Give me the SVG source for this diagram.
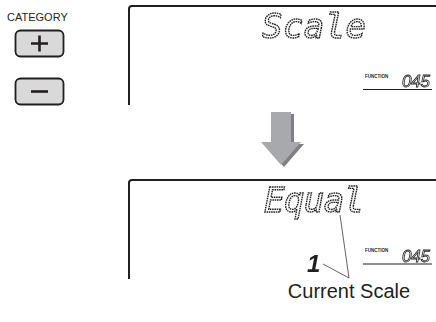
<svg xmlns="http://www.w3.org/2000/svg" width="436" height="322" viewBox="0 0 436 322">
<defs>
<filter id="gray" x="0" y="0" width="1" height="1"><feColorMatrix type="saturate" values="0"/></filter>
<style>
.frame{fill:none;stroke:#231f20;stroke-width:2}
.uline{fill:none;stroke:#231f20;stroke-width:1.1}
.lcd{font-family:"DejaVu Sans Mono",monospace;font-style:italic;font-size:34px;fill:none;stroke:#231f20;stroke-width:1.4;stroke-dasharray:1.6 0.7}
.fn{font-family:"Liberation Sans",Arial,sans-serif;font-weight:bold;font-size:4.5px;fill:#231f20}
.seg{font-family:"Liberation Sans",Arial,sans-serif;font-style:italic;font-size:17px;fill:none;stroke:#231f20;stroke-width:0.8}
.btn{fill:#d9d9d9;stroke:#231f20;stroke-width:1.8}
.lbl{font-family:"Liberation Sans",Arial,sans-serif;fill:#231f20}
.leader{fill:none;stroke:#231f20;stroke-width:0.7}
.g{filter:url(#gray)}
</style>
</defs>
<g id="category">
<text class="lbl" x="7" y="21" font-size="11">CATEGORY</text>
<g id="btn-plus">
<rect class="btn" x="15.5" y="30.5" width="48" height="26" rx="5"/>
<path d="M31 43.5h17M39.5 35.5v16" stroke="#231f20" stroke-width="2.6" fill="none"/>
</g>
<g id="btn-minus">
<rect class="btn" x="15.5" y="78.5" width="48" height="26" rx="5"/>
<path d="M31 91.5h17" stroke="#231f20" stroke-width="2.6" fill="none"/>
</g>
</g>
<g id="display1">
<path class="frame" d="M436 6H132Q129 6 129 9V105"/>
<g class="g">
<text class="lcd" x="314" y="38" text-anchor="middle" textLength="104">Scale</text>
<text class="seg" x="402" y="87" textLength="28">045</text>
</g>
<text class="fn" x="365" y="78">FUNCTION</text>
<line class="uline" x1="363" y1="89.5" x2="432" y2="89.5"/>
</g>
<g id="arrow">
<path d="M274 114H294V144H304L284 167L264 144H274Z" fill="#7f7f7f"/>
<path d="M271 112H291V142H301L281 165L261 142H271Z" fill="#a7a9ac"/>
</g>
<g id="display2">
<path class="frame" d="M436 180H132Q129 180 129 183V279"/>
<g class="g">
<text class="lcd" x="314" y="212" text-anchor="middle" textLength="100">Equal</text>
<text class="seg" x="402" y="262" textLength="28">045</text>
<text x="307" y="272" font-family="Liberation Sans, Arial, sans-serif" font-style="italic" font-weight="bold" font-size="24" fill="#231f20">1</text>
</g>
<text class="fn" x="365" y="252">FUNCTION</text>
<line class="uline" x1="363" y1="264" x2="432" y2="264"/>
</g>
<g id="connectors">
<line class="leader" x1="340" y1="215" x2="349" y2="278"/>
<line class="leader" x1="323" y1="264" x2="349" y2="278"/>
</g>
<g id="label">
<text class="lbl" x="349" y="298" font-size="20" text-anchor="middle">Current Scale</text>
</g>
</svg>
